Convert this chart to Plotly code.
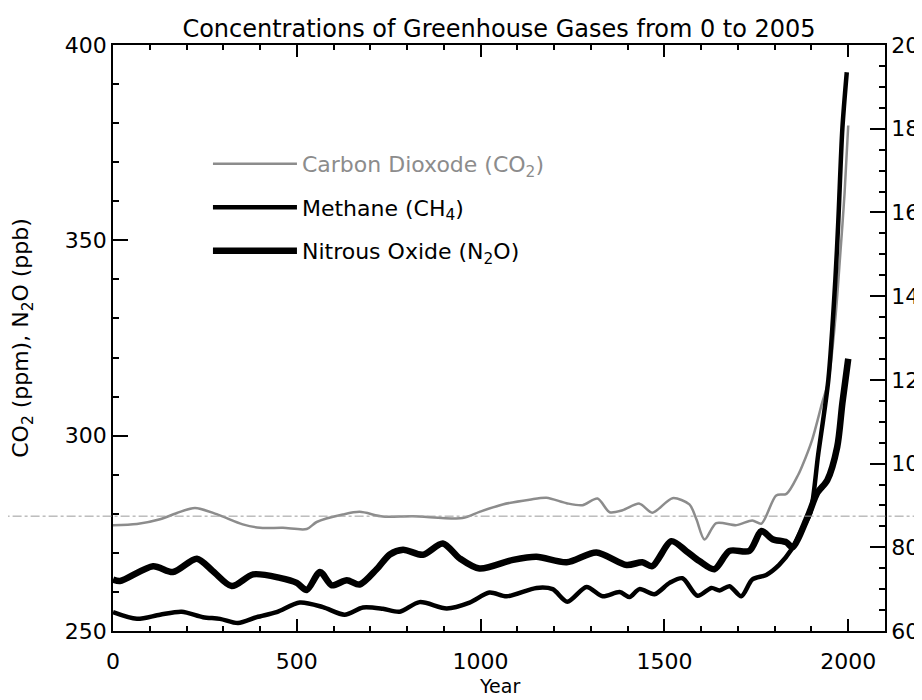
import plotly.graph_objects as go

# values
co2_year = [0, 65, 128, 174, 223, 282, 353, 400, 462, 527, 554, 625, 671, 734, 815,
            951, 997, 1060, 1133, 1179, 1234, 1277, 1318, 1351, 1386, 1432, 1467,
            1522, 1568, 1587, 1609, 1641, 1696, 1739, 1764, 1804, 1832, 1864, 1875,
            1902, 1929, 1946, 1965, 1978, 1990, 2000]
co2_ppm = [277.1, 277.4, 278.6, 280.2, 281.5, 279.9, 277.3, 276.4, 276.4, 276.1, 277.9,
           279.8, 280.5, 279.3, 279.4, 278.9, 280.5, 282.4, 283.6, 284.1, 282.7, 282.2,
           283.9, 280.4, 280.9, 282.6, 280.3, 284.0, 282.4, 278.6, 273.4, 277.6, 277.1,
           278.3, 277.5, 284.7, 285.1, 290.0, 292.3, 299.0, 308.4, 314.0, 330.0, 346.0,
           362.0, 379.4]

ch4_year = [0, 65, 128, 187, 245, 291, 340, 391, 445, 508, 571, 630, 680, 734, 780,
            834, 908, 970, 1024, 1071, 1152, 1196, 1236, 1288, 1332, 1378, 1405, 1432,
            1473, 1514, 1549, 1590, 1628, 1650, 1677, 1709, 1739, 1777, 1812, 1845,
            1875, 1897, 1918, 1946, 1965, 1973, 1984, 1996]
ch4_ppb = [645, 629, 639, 646, 633, 629, 619, 633, 645, 668, 657, 639, 656, 653, 646,
           669, 654, 668, 692, 683, 703, 700, 670, 705, 683, 693, 681, 700, 688, 715,
           726, 684, 703, 697, 707, 683, 723, 734, 758, 794, 845, 883, 1020, 1201, 1440,
           1580, 1800, 1935]

n2o_year = [0, 19, 109, 163, 228, 272, 323, 381, 454, 500, 527, 563, 595, 636, 671,
            717, 753, 789, 843, 897, 943, 997, 1088, 1152, 1234, 1315, 1397, 1440, 1467,
            1519, 1560, 1595, 1636, 1677, 1731, 1764, 1794, 1832, 1848, 1889, 1916, 1943,
            1970, 1984, 2000]
n2o_ppb = [263.2, 262.8, 266.6, 265.1, 268.5, 265.3, 261.5, 264.5, 263.6, 262.3, 260.5,
           265.1, 261.7, 263.0, 261.9, 265.8, 269.6, 270.8, 269.5, 272.4, 268.6, 266.0,
           268.2, 269.0, 267.6, 270.1, 266.9, 267.6, 266.6, 273.0, 270.4, 267.9, 265.8,
           270.5, 270.5, 275.6, 273.5, 272.7, 271.4, 279.1, 285.4, 288.6, 297.1, 308.3,
           319.7]

x_ticks = [0, 500, 1000, 1500, 2000]
left_ticks = [250, 300, 350, 400]
right_ticks = [600, 800, 1000, 1200, 1400, 1600, 1800, 2000]

FONT = "DejaVu Sans"
GRAY = "#8c8c8c"

fig = go.Figure()

fig.add_trace(go.Scatter(
    x=co2_year, y=co2_ppm, mode="lines", legendgroup="co2", legendrank=1,
    name='<span style="color:%s">Carbon Dioxode (CO<sub>2</sub>)</span>' % GRAY,
    line=dict(color=GRAY, width=2.5, shape="spline", smoothing=0.8)))
fig.add_trace(go.Scatter(
    x=ch4_year, y=ch4_ppb, mode="lines", yaxis="y2", legendgroup="ch4", legendrank=2,
    name="Methane (CH<sub>4</sub>)",
    line=dict(color="black", width=4.5, shape="spline", smoothing=0.8)))
fig.add_trace(go.Scatter(
    x=n2o_year, y=n2o_ppb, mode="lines", legendgroup="n2o", legendrank=3,
    name="Nitrous Oxide (N<sub>2</sub>O)",
    line=dict(color="black", width=6.5, shape="spline", smoothing=0.8)))

# faint dash-dot line running across the whole scan
fig.add_shape(type="line", xref="paper", yref="paper", x0=-0.2, x1=1.2,
              y0=0.196, y1=0.196, line=dict(color="#9a9a9a", width=1, dash="dashdot"))

# x axis title placed by hand so it stays inside the page
fig.add_annotation(text="Year", xref="paper", yref="paper", x=0.5, y=-0.094,
                   xanchor="center", yanchor="middle", showarrow=False,
                   font=dict(size=19, color="black"))

axis_common = dict(showline=True, linecolor="black", linewidth=1.5, ticks="inside",
                   tickcolor="black", tickwidth=1.5, showgrid=False, zeroline=False,
                   automargin=False, tickfont=dict(size=22, color="black"))

# the page body keeps its default 8px margin, so the margins below are 8px smaller
# on the left/top to land the frame where the scan has it
fig.update_layout(
    width=922, height=700,
    margin=dict(l=105, r=45, t=37, b=77),
    paper_bgcolor="white", plot_bgcolor="white",
    font=dict(family=FONT, color="black", size=20),
    title=dict(text="Concentrations of Greenhouse Gases from 0 to 2005",
               x=0.5, xref="paper", xanchor="center",
               y=1 - 21 / 700, yref="container", yanchor="middle",
               font=dict(size=24, color="black")),
    xaxis=dict(range=[0, 2100], tickvals=x_ticks, ticklen=12, mirror="ticks",
               ticklabelstandoff=10,
               minor=dict(dtick=100, ticks="inside", ticklen=5, tickcolor="black"),
               **axis_common),
    yaxis=dict(range=[250, 400], tickvals=left_ticks, ticklen=15,
               minor=dict(dtick=10, ticks="inside", ticklen=6, tickcolor="black"),
               title=dict(text="CO<sub>2</sub> (ppm), N<sub>2</sub>O (ppb)",
                          font=dict(size=22), standoff=30),
               **axis_common),
    yaxis2=dict(range=[600, 2000], tickvals=right_ticks, ticklen=15,
                overlaying="y", side="right",
                minor=dict(dtick=50, ticks="inside", ticklen=6, tickcolor="black"),
                **axis_common),
    legend=dict(x=0.123, y=0.833, xanchor="left", yanchor="top",
                bgcolor="rgba(0,0,0,0)", traceorder="grouped", tracegroupgap=12,
                itemwidth=84, font=dict(size=22, color="black")),
    showlegend=True,
)

fig.write_html("out.html")
